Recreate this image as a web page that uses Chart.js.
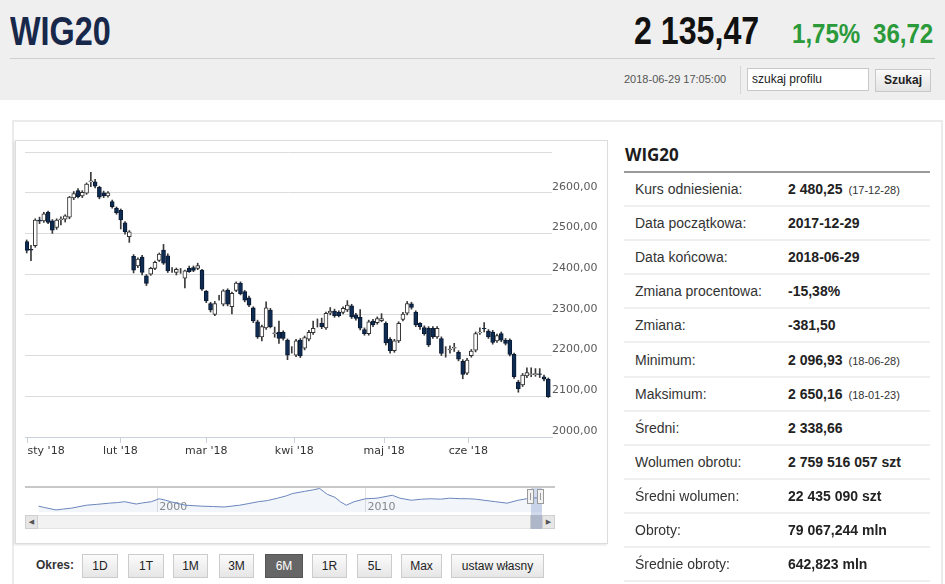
<!DOCTYPE html>
<html lang="pl">
<head>
<meta charset="utf-8">
<title>WIG20</title>
<script src="https://cdn.jsdelivr.net/npm/chart.js@4.4.1/dist/chart.umd.min.js"></script>
<style>
  html, body { margin: 0; padding: 0; background: #fff; }
  body { width: 945px; height: 584px; position: relative; overflow: hidden; font-family: "Liberation Sans", Arial, sans-serif; color: #333; }
  .abs { position: absolute; }
  .narrow { transform-origin: left top; white-space: nowrap; }
  #header { left: 0; top: 0; width: 945px; height: 100px; background: #efefef; }
  #title { left: 10px; top: 9px; font: bold 40px "Liberation Sans", sans-serif; color: #17284a; transform: scaleX(0.81); }
  #price { left: 634px; top: 9px; font: bold 39px "Liberation Sans", sans-serif; color: #111; transform: scaleX(0.825); }
  .chg { top: 18px; font: bold 28px "Liberation Sans", sans-serif; color: #2a9a3a; transform: scaleX(0.86); }
  #hsep { left: 10px; top: 58px; width: 925px; height: 1px; background: #cfcfcf; }
  #stamp { left: 624px; top: 73px; font: 11px "Liberation Sans", sans-serif; color: #555; }
  #vsep { left: 740px; top: 66px; width: 1px; height: 28px; background: #d6d6d6; }
  #search { left: 747px; top: 68px; width: 122px; height: 23px; background: #fff; border: 1px solid #c8c8c8; box-sizing: border-box; font: 12px "Liberation Sans", sans-serif; color: #222; padding: 3px 4px; }
  #szukaj { left: 875px; top: 69px; width: 56px; height: 23px; border: 1px solid #c8c8c8; box-sizing: border-box; background: linear-gradient(#fafafa, #e4e4e4); font: bold 12px "Liberation Sans", sans-serif; color: #222; text-align: center; line-height: 21px; }
  #outer { left: 12px; top: 120px; width: 931px; height: 480px; border: 2px solid #ebebeb; box-sizing: border-box; }
  #chartbox { left: 15px; top: 140px; width: 593px; height: 404px; border: 1px solid #dcdcdc; box-sizing: border-box; box-shadow: -1px 1px 2px rgba(0,0,0,0.12); }
  #mainWrap { left: 15px; top: 141px; width: 593px; height: 320px; }
  #navWrap { left: 15px; top: 480px; width: 593px; height: 40px; }
  #navTop { left: 25px; top: 486px; width: 530px; height: 2px; background: #c8c8c8; }
  #scroll { left: 25px; top: 515px; width: 530px; height: 14px; background: #f2f2f2; border: 1px solid #e4e4e4; box-sizing: border-box; }
  .sbtn { top: 515px; width: 13px; height: 14px; background: #e6e6e6; border: 1px solid #cfcfcf; box-sizing: border-box; font: 7px "DejaVu Sans", sans-serif; color: #555; text-align: center; line-height: 12px; }
  #thumb { left: 530px; top: 515px; width: 12px; height: 14px; background: #cdcdcd; }
  #mask { left: 531px; top: 488px; width: 11px; height: 41px; background: rgba(102,133,194,0.3); }
  .handle { top: 489px; width: 7px; height: 15px; background: #f2f2f2; border: 1px solid #999; box-sizing: border-box; }
  .handle::after { content: ""; position: absolute; left: 2px; top: 3px; width: 1px; height: 7px; border-left: 1px solid #999; }
  #okres { left: 36px; top: 558px; font: bold 12px "Liberation Sans", sans-serif; color: #333; }
  .btn { top: 554px; height: 24px; border: 1px solid #cccccc; box-sizing: border-box; background: linear-gradient(#fbfbfb, #e6e6e6); font: 12px "Liberation Sans", sans-serif; color: #222; text-align: center; line-height: 22px; }
  .btn.on { background: #666; color: #fff; border-color: #555; }
  #panel { left: 624px; top: 140px; width: 306px; }
  #ptitle { position: absolute; left: 1px; top: 3px; font: bold 17px "Open Sans", sans-serif; color: #1c1c1c; }
  #pline { position: absolute; left: 0; top: 31px; width: 306px; height: 2px; background: #9a9a9a; }
  .row { position: absolute; left: 0; width: 306px; height: 34px; border-bottom: 2px solid #efefef; box-sizing: border-box; font-size: 14px; }
  .row .l { position: absolute; left: 11px; top: 8px; color: #333; }
  .row .v { position: absolute; left: 164px; top: 8px; font-weight: bold; color: #222; }
  .row .d { font-size: 11px; font-weight: normal; color: #333; margin-left: 6px; }
</style>
</head>
<body>
<div id="header" class="abs"></div>
<div id="title" class="abs narrow">WIG20</div>
<div id="price" class="abs narrow">2 135,47</div>
<div class="abs chg narrow" style="left:792px">1,75%</div>
<div class="abs chg narrow" style="left:873px">36,72</div>
<div id="hsep" class="abs"></div>
<div id="stamp" class="abs">2018-06-29 17:05:00</div>
<div id="vsep" class="abs"></div>
<div id="search" class="abs">szukaj profilu</div>
<div id="szukaj" class="abs">Szukaj</div>

<div id="outer" class="abs"></div>
<div id="chartbox" class="abs"></div>
<div id="mainWrap" class="abs"><canvas id="mainChart"></canvas></div>
<div id="navWrap" class="abs"><canvas id="navChart"></canvas></div>
<div id="navTop" class="abs"></div>
<div id="scroll" class="abs"></div>
<div id="thumb" class="abs"></div>
<div class="abs sbtn" style="left:25px">&#9664;</div>
<div class="abs sbtn" style="left:542px">&#9654;</div>
<div id="mask" class="abs"></div>
<div class="abs handle" style="left:527px"></div>
<div class="abs handle" style="left:537px"></div>

<div id="okres" class="abs">Okres:</div>
<div id="buttons"></div>

<div id="panel" class="abs">
  <div id="ptitle">WIG20</div>
  <div id="pline"></div>
  <div id="rows"></div>
</div>

<script>
// dane dzienne WIG20 (2017-12-29 .. 2018-06-29)
const open = [
  2480, 2461, 2470, 2533, 2531, 2552, 2531, 2515, 2534, 2535,
  2540, 2587, 2605, 2592, 2599, 2627, 2627, 2613, 2600, 2592,
  2578, 2562, 2557, 2526, 2492, 2444, 2420, 2442, 2396, 2400,
  2414, 2434, 2459, 2445, 2410, 2404, 2408, 2390, 2414, 2416,
  2414, 2410, 2358, 2328, 2301, 2342, 2326, 2361, 2320, 2360,
  2378, 2357, 2342, 2317, 2283, 2246, 2268, 2312, 2254, 2258,
  2257, 2238, 2214, 2201, 2238, 2218, 2240, 2256, 2277, 2279,
  2268, 2304, 2309, 2306, 2306, 2312, 2322, 2300, 2294, 2264,
  2254, 2285, 2281, 2286, 2279, 2240, 2212, 2236, 2289, 2304,
  2327, 2307, 2279, 2269, 2267, 2267, 2246, 2242, 2212, 2214,
  2218, 2208, 2186, 2157, 2200, 2213, 2256, 2267, 2260, 2258,
  2236, 2254, 2238, 2238, 2203, 2135, 2128, 2150, 2154, 2153,
  2155, 2148, 2142
];
const high = [
  2484, 2471, 2536, 2540, 2552, 2555, 2534, 2536, 2541, 2546,
  2591, 2603, 2610, 2605, 2624, 2650, 2633, 2616, 2604, 2603,
  2582, 2565, 2560, 2529, 2507, 2448, 2440, 2446, 2399, 2417,
  2432, 2452, 2473, 2450, 2416, 2415, 2414, 2410, 2420, 2420,
  2427, 2412, 2360, 2331, 2333, 2348, 2362, 2364, 2356, 2381,
  2381, 2360, 2346, 2320, 2287, 2275, 2332, 2316, 2270, 2285,
  2261, 2241, 2222, 2240, 2242, 2248, 2262, 2285, 2290, 2292,
  2307, 2318, 2314, 2310, 2320, 2335, 2326, 2304, 2313, 2268,
  2287, 2289, 2295, 2303, 2283, 2244, 2240, 2283, 2306, 2333,
  2331, 2310, 2281, 2273, 2271, 2271, 2271, 2246, 2222, 2224,
  2230, 2212, 2190, 2193, 2215, 2258, 2268, 2281, 2264, 2262,
  2253, 2258, 2242, 2241, 2206, 2139, 2156, 2170, 2170, 2168,
  2168, 2152, 2145
];
const low = [
  2452, 2433, 2466, 2524, 2527, 2524, 2500, 2510, 2521, 2528,
  2536, 2583, 2587, 2588, 2596, 2615, 2612, 2585, 2588, 2589,
  2562, 2547, 2511, 2498, 2478, 2403, 2416, 2398, 2372, 2397,
  2411, 2431, 2424, 2404, 2404, 2398, 2402, 2366, 2404, 2406,
  2411, 2360, 2330, 2307, 2298, 2336, 2322, 2322, 2302, 2357,
  2349, 2332, 2320, 2281, 2242, 2236, 2264, 2268, 2245, 2230,
  2238, 2190, 2206, 2197, 2195, 2214, 2236, 2252, 2270, 2266,
  2264, 2300, 2294, 2295, 2302, 2308, 2291, 2287, 2263, 2250,
  2250, 2271, 2277, 2283, 2226, 2206, 2208, 2232, 2285, 2300,
  2314, 2271, 2264, 2250, 2222, 2242, 2242, 2200, 2196, 2206,
  2210, 2187, 2143, 2153, 2196, 2209, 2252, 2258, 2242, 2228,
  2232, 2234, 2226, 2199, 2144, 2110, 2124, 2146, 2148, 2149,
  2146, 2138, 2097
];
const close = [
  2458, 2459, 2533, 2530, 2548, 2527, 2508, 2533, 2536, 2543,
  2589, 2598, 2590, 2601, 2621, 2629, 2616, 2589, 2592, 2600,
  2566, 2551, 2533, 2504, 2504, 2410, 2437, 2404, 2377, 2414,
  2429, 2449, 2427, 2408, 2410, 2412, 2408, 2408, 2406, 2409,
  2421, 2363, 2334, 2312, 2328, 2342, 2359, 2326, 2353, 2378,
  2352, 2336, 2324, 2285, 2246, 2271, 2317, 2271, 2256, 2242,
  2242, 2201, 2214, 2236, 2199, 2244, 2257, 2267, 2277, 2271,
  2304, 2309, 2298, 2298, 2316, 2324, 2295, 2291, 2267, 2254,
  2283, 2275, 2291, 2291, 2231, 2212, 2236, 2279, 2302, 2328,
  2318, 2275, 2271, 2254, 2226, 2246, 2267, 2205, 2212, 2216,
  2220, 2191, 2154, 2189, 2211, 2254, 2258, 2266, 2246, 2232,
  2249, 2238, 2230, 2203, 2148, 2119, 2152, 2158, 2155, 2156,
  2154, 2142, 2099
];

// etykiety osi czasu (pozycje w jednostkach sesji); ostatnia pusta domyka oś
const monthTicks = [0.2, 21.9, 42, 62.6, 83.6, 103.3, 122.87];
const monthLabels = ["sty '18", "lut '18", "mar '18", "kwi '18", "maj '18", "cze '18", ""];
const priceTicks = [2000, 2100, 2200, 2300, 2400, 2500, 2600, 2700];

const navYears = [
  1994.3, 1994.6, 1995.14, 1995.5, 1995.87, 1996.2, 1996.6, 1997.1, 1997.7, 1998.1,
  1998.44, 1998.99, 1999.3, 1999.72, 2000.09, 2000.4, 2000.64, 2001.0, 2001.37, 2002.1,
  2002.7, 2003.21, 2003.95, 2004.4, 2004.86, 2005.3, 2005.78, 2006.2, 2006.51, 2007.06,
  2007.5, 2007.8, 2008.17, 2008.53, 2008.8, 2009.08, 2009.45, 2010.0, 2010.55, 2011.29,
  2011.65, 2012.2, 2012.7, 2013.12, 2013.6, 2014.04, 2014.5, 2014.95, 2015.3, 2015.69,
  2016.24, 2016.8, 2017.33, 2017.9, 2018.2, 2018.49
];
const navValues = [
  1266, 1046, 695, 830, 959, 1160, 1398, 1530, 1705, 1800,
  1925, 1573, 1750, 1925, 2364, 2150, 1925, 1650, 1398, 1266,
  1200, 1134, 1398, 1650, 1925, 2100, 2451, 2800, 3154, 3461,
  3700, 3900, 3022, 2583, 1900, 1398, 1925, 2364, 2451, 2890,
  2451, 2144, 2300, 2364, 2300, 2451, 2380, 2364, 2300, 2144,
  1925, 1705, 2144, 2451, 2500, 2200
];
const navGridYears = [2000, 2010];

const okresButtons = ['1D', '1T', '1M', '3M', '6M', '1R', '5L', 'Max', 'ustaw własny'];
const okresLeft = [82, 128, 173, 219, 265, 312, 357, 401, 451];
const okresWidth = [36, 36, 35, 35, 38, 35, 35, 41, 93];
const activeOkres = '6M';

const statLabels = ['Kurs odniesienia:', 'Data początkowa:', 'Data końcowa:', 'Zmiana procentowa:', 'Zmiana:',
  'Minimum:', 'Maksimum:', 'Średni:', 'Wolumen obrotu:', 'Średni wolumen:', 'Obroty:', 'Średnie obroty:'];
const statValues = ['2 480,25', '2017-12-29', '2018-06-29', '-15,38%', '-381,50',
  '2 096,93', '2 650,16', '2 338,66', '2 759 516 057 szt', '22 435 090 szt', '79 067,244 mln', '642,823 mln'];
const statDates = ['(17-12-28)', '', '', '', '', '(18-06-28)', '(18-01-23)', '', '', '', '', ''];

// przyciski okresu
const btnBox = document.getElementById('buttons');
okresButtons.forEach((txt, i) => {
  const b = document.createElement('div');
  b.className = 'abs btn' + (txt === activeOkres ? ' on' : '');
  b.style.left = okresLeft[i] + 'px';
  b.style.width = okresWidth[i] + 'px';
  b.textContent = txt;
  btnBox.appendChild(b);
});

// tabela statystyk
const rowsBox = document.getElementById('rows');
statLabels.forEach((lab, i) => {
  const r = document.createElement('div');
  r.className = 'row';
  r.style.top = (33 + i * 34.1) + 'px';
  const l = document.createElement('span');
  l.className = 'l';
  l.textContent = lab;
  const v = document.createElement('span');
  v.className = 'v';
  v.textContent = statValues[i];
  if (statDates[i]) {
    const d = document.createElement('span');
    d.className = 'd';
    d.textContent = statDates[i];
    v.appendChild(d);
  }
  r.appendChild(l);
  r.appendChild(v);
  rowsBox.appendChild(r);
});

const axisFont = { family: '"DejaVu Sans", Verdana, sans-serif', size: 11 };

// wykres świecowy: korpus i knoty jako słupki pływające
new Chart(document.getElementById('mainChart'), {
  type: 'bar',
  data: {
    datasets: [
      {
        label: 'korpus',
        data: open.map((o, i) => ({ x: i, y: [o, close[i]] })),
        backgroundColor: ctx => close[ctx.dataIndex] >= open[ctx.dataIndex] ? '#ffffff' : '#0e2b52',
        borderColor: ctx => close[ctx.dataIndex] >= open[ctx.dataIndex] ? '#333333' : '#0a1a33',
        borderWidth: 1,
        borderSkipped: false,
        barThickness: 4,
        grouped: false
      },
      {
        label: 'knot',
        data: low.map((l, i) => ({ x: i, y: [l, high[i]] })),
        backgroundColor: '#3a3a3a',
        borderWidth: 0,
        barThickness: 1,
        grouped: false
      }
    ]
  },
  options: {
    responsive: true,
    maintainAspectRatio: false,
    animation: false,
    layout: { autoPadding: false, padding: { left: 10, top: 11, right: 0, bottom: 0 } },
    plugins: { legend: { display: false }, tooltip: { enabled: false } },
    scales: {
      x: {
        type: 'linear',
        offset: false,
        min: -0.4,
        max: 122.87,
        afterBuildTicks: s => { s.ticks = monthTicks.map(v => ({ value: v })); },
        afterFit: s => { s.height = 24; },
        ticks: {
          callback: (v, i) => monthLabels[i],
          color: '#333',
          font: axisFont,
          align: 'inner',
          padding: 2,
          maxRotation: 0,
          autoSkip: false
        },
        grid: {
          offset: false,
          drawOnChartArea: false,
          drawTicks: true,
          tickLength: 6,
          color: '#c8d0dc',
          tickColor: ctx => monthLabels[ctx.index] ? '#c8d0dc' : 'rgba(0,0,0,0)'
        },
        border: { display: true, color: '#c8d0dc' }
      },
      y: {
        position: 'right',
        min: 2000,
        max: 2700,
        afterBuildTicks: s => { s.ticks = priceTicks.map(v => ({ value: v })); },
        afterFit: s => { s.width = 56; },
        ticks: {
          callback: v => v === 2700 ? '' : v.toFixed(2).replace('.', ','),
          color: '#5a5a5a',
          font: axisFont,
          padding: 0,
          labelOffset: -6
        },
        grid: { color: '#dcdcdc', drawTicks: false },
        border: { display: false }
      }
    }
  }
});

// nawigator z pełną historią
new Chart(document.getElementById('navChart'), {
  type: 'line',
  data: {
    datasets: [{
      data: navYears.map((y, i) => ({ x: y, y: navValues[i] })),
      borderColor: '#6a86bd',
      borderWidth: 1,
      backgroundColor: 'rgba(69,114,167,0.07)',
      fill: 'start',
      pointRadius: 0,
      tension: 0
    }]
  },
  options: {
    responsive: true,
    maintainAspectRatio: false,
    animation: false,
    layout: { autoPadding: false, padding: { left: 10, top: 7, right: 53, bottom: 0 } },
    plugins: { legend: { display: false }, tooltip: { enabled: false } },
    scales: {
      x: {
        type: 'linear',
        min: 1993.65,
        max: 2019.1,
        afterBuildTicks: s => { s.ticks = navGridYears.map(v => ({ value: v })); },
        afterFit: s => { s.height = 8; },
        ticks: {
          callback: v => String(v),
          color: '#8a8a8a',
          font: axisFont,
          mirror: true,
          align: 'start',
          padding: -1.5,
          labelOffset: 2,
          maxRotation: 0,
          autoSkip: false
        },
        grid: { color: '#e2e2e2', drawTicks: false },
        border: { display: false }
      },
      y: { display: false, min: 388, max: 4120 }
    }
  }
});
</script>
</body>
</html>
